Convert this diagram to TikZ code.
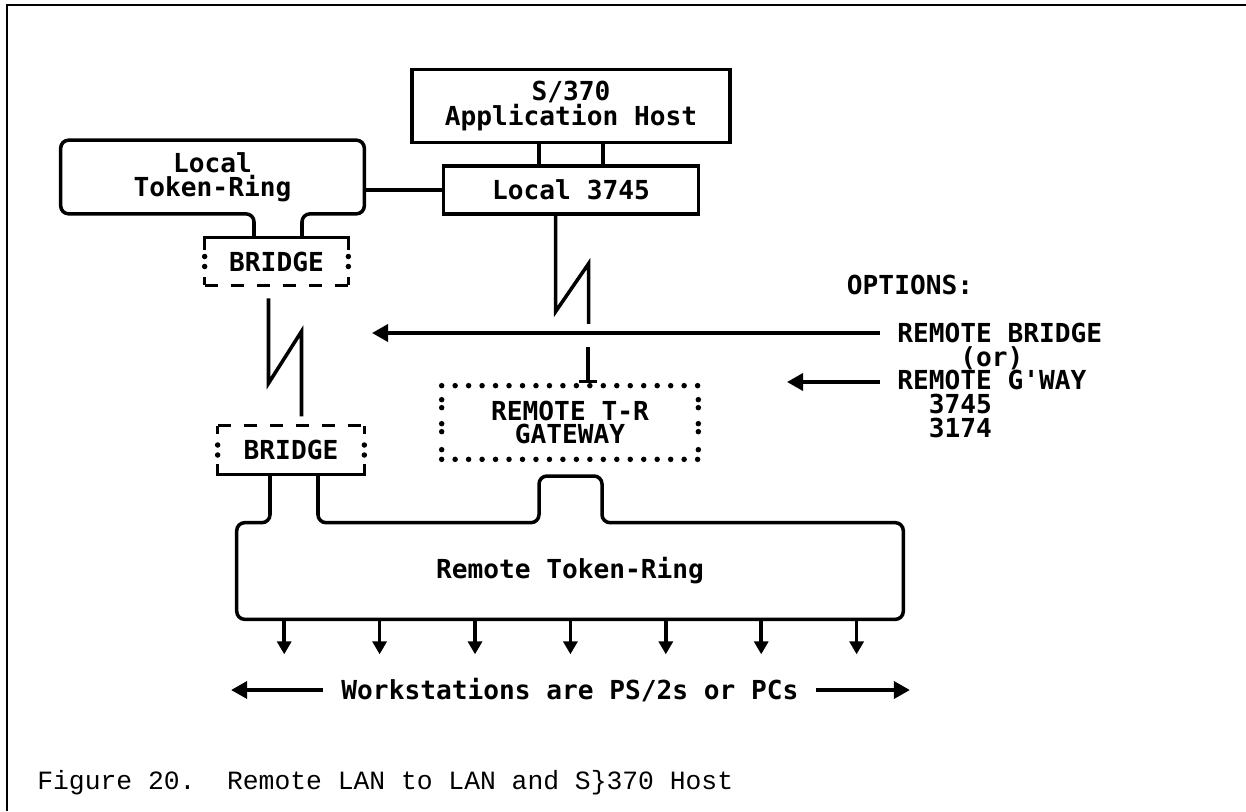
\documentclass[tikz,border=0pt]{standalone}
\usepackage{fontspec}
\newfontfamily\chartfont{DejaVu Sans Mono}
\newfontfamily\capfont{Liberation Mono}
\usetikzlibrary{arrows.meta,calc}

\begin{document}
\begin{tikzpicture}[x=0.02cm, y=-0.02cm,
  plain/.style={font=\chartfont\bfseries\fontsize{14.9}{13.4}\selectfont, align=center, inner sep=0pt},
  box/.style={plain, draw, line width=2pt},
  line/.style={line width=2pt},
  ring/.style={line width=2pt, rounded corners=0.16cm},
  dashline/.style={line width=2pt, dash pattern=on 0.26cm off 0.26cm},
  tip/.style={line width=2pt, -{Triangle[length=0.32cm, width=0.34cm]}},
  smalltip/.style={line width=2pt, -{Triangle[length=0.26cm, width=0.28cm]}}]
\useasboundingbox (0,0) rectangle (1246,811);
% page frame
\draw[line width=1.5pt] (7,811) -- (7,5) -- (1246,5);

% host and local 3745
\node[box, minimum width=6.36cm, minimum height=1.46cm] (host) at (571,106) {S/370\\Application Host};
\node[box, minimum width=5.1cm, minimum height=0.96cm] (fep) at (571,190) {Local 3745};
\draw[line] ([xshift=-0.64cm]host.south) -- ([xshift=-0.64cm]fep.north);
\draw[line] ([xshift=0.64cm]host.south) -- ([xshift=0.64cm]fep.north);

% local token-ring and its bridge
\node[plain, minimum width=6.06cm, minimum height=1.46cm] (ltr) at (212.5,177) {Local\\Token-Ring};
\node[plain, minimum width=2.86cm, minimum height=0.94cm] (brA) at (276.5,261.5) {BRIDGE};
\coordinate (tA1) at (254,238);
\coordinate (tA2) at (302,238);
\draw[ring] (tA1) |- (ltr.south west) -- (ltr.north west) -- (ltr.north east) -- (ltr.south east) -| (tA2);
\draw[line] (fep.west) -- (fep.west -| ltr.east);
\draw[line] ([yshift=-0.24cm]brA.north west) -- (brA.north west) -- (brA.north east) -- ++(0,12);
\draw[dashline] (brA.south west) -- (brA.south east);
\draw[line] ([yshift=0.16cm]brA.south west) -- (brA.south west) (brA.south east) -- ++(0,-8);
\foreach \s in {west,east}
  \fill ([yshift=0.1cm]brA.\s) circle[radius=0.055cm] ([yshift=-0.1cm]brA.\s) circle[radius=0.055cm];

% remote bridge
\node[plain, minimum width=2.92cm, minimum height=0.96cm] (brB) at (291,450) {BRIDGE};
\draw[dashline] (brB.north west) -- (brB.north east);
\draw[line] ([yshift=-0.16cm]brB.north west) -- (brB.north west) (brB.north east) -- ++(0,8);
\draw[line] ([yshift=0.2cm]brB.south west) -- (brB.south west) -- (brB.south east) -- ++(0,-10);
\foreach \s in {west,east}
  \fill ([yshift=0.1cm]brB.\s) circle[radius=0.055cm] ([yshift=-0.1cm]brB.\s) circle[radius=0.055cm];
% link between the bridges
\draw[line] ([xshift=-0.16cm]brA.south) ++(0,13) -- ++(0,85) -- ++(33,-52) -- ++(0,85);

% remote gateway
\node[plain, minimum width=5.12cm, minimum height=1.46cm] (gw) at (570,422.5) {REMOTE T-R\\GATEWAY};
\foreach \k in {0,...,19} {
  \fill ($(gw.north west)+(13.47*\k,0)$) circle[radius=0.055cm];
  \fill ($(gw.south west)+(13.47*\k,0)$) circle[radius=0.055cm];
}
\foreach \d in {14,22,38,46,64} {
  \fill ($(gw.north west)+(0,\d)$) circle[radius=0.055cm];
  \fill ($(gw.north east)+(0,\d)$) circle[radius=0.055cm];
}
\draw[line] ([xshift=-0.31cm]fep.south) -- ++(0,96) -- ++(33,-48) -- ++(0,60);
\draw[line] ([xshift=0.36cm]gw.north) ++(0,-39) -- ++(0,35) ++(-9,0) -- ++(18,0);

% remote token-ring
\node[plain, minimum width=13.32cm, minimum height=1.92cm] (rtr) at (570,571) {Remote Token-Ring};
\coordinate (tB1) at (270,474);
\coordinate (tB2) at (318,474);
\coordinate (bmpL) at (539,476);
\coordinate (bmpR) at (602,476);
\draw[ring] (tB1) |- (rtr.north west) -- (rtr.south west) -- (rtr.south east) -- (rtr.north east) -| (bmpR) -- (bmpL) |- (tB2 |- rtr.north) -- (tB2);
\foreach \i in {0,...,6}
  \draw[smalltip] ($(rtr.south west)+(47.5+95.4*\i,0)$) -- ++(0,35);

% workstations
\node[plain] (ws) at (570,690) {Workstations are PS/2s or PCs};
\draw[tip] (ws.west) ++(-18,0) -- ++(-92,0);
\draw[tip] (ws.east) ++(17,0) -- ++(94,0);

% options
\node[plain] (optHd) at (910,285) {OPTIONS:};
\node[plain, align=left, anchor=base west] (opts) at (897,437) {REMOTE BRIDGE\\\hphantom{0000}(or)\\REMOTE G\textquotesingle WAY\\\hphantom{00}3745\\\hphantom{00}3174};
\coordinate (o1) at (880,333);
\coordinate (o2) at (880,382);
\coordinate (lkTip) at (372,333);
\draw[tip] (o1) -- (lkTip);
\draw[tip] (o2) -- ++(-93,0);

% caption
\node[font=\capfont\fontsize{15}{18}\selectfont, anchor=base west, inner sep=0pt] (cap) at (37,789) {Figure 20.~~Remote LAN to LAN and S\}370 Host};
\end{tikzpicture}
\end{document}
